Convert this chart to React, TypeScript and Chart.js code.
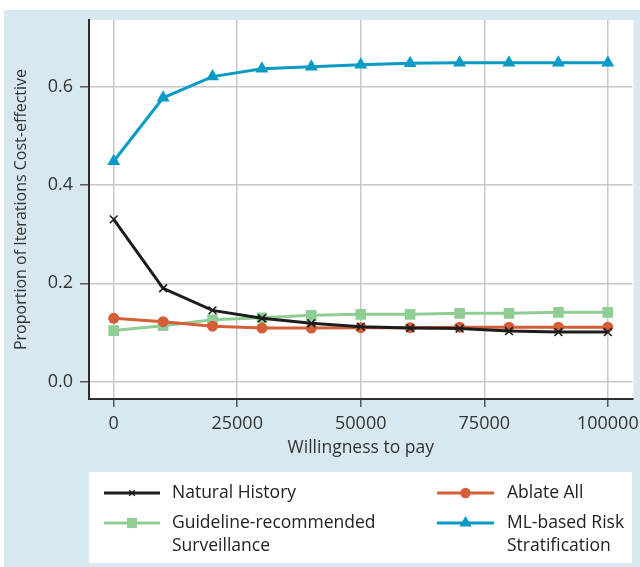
import React, { useEffect, useRef } from "react";
import { Chart, registerables } from "chart.js";

Chart.register(...registerables);

// ---- data ----
const wtp = [0, 10000, 20000, 30000, 40000, 50000, 60000, 70000, 80000, 90000, 100000];
const naturalHistory = [0.33, 0.19, 0.145, 0.129, 0.119, 0.112, 0.109, 0.108, 0.103, 0.101, 0.101];
const ablateAll = [0.129, 0.122, 0.113, 0.109, 0.109, 0.11, 0.11, 0.111, 0.111, 0.111, 0.111];
const guideline = [0.104, 0.114, 0.126, 0.13, 0.135, 0.137, 0.137, 0.139, 0.139, 0.141, 0.141];
const mlRisk = [0.448, 0.577, 0.62, 0.636, 0.64, 0.644, 0.647, 0.648, 0.648, 0.648, 0.648];
const xTicks = [0, 25000, 50000, 75000, 100000];
const yTicks = [0, 0.2, 0.4, 0.6];
const seriesNames = [
  "Natural History",
  "Ablate All",
  "Guideline-recommended\nSurveillance",
  "ML-based Risk\nStratification",
];
const xTitle = "Willingness to pay";
const yTitle = "Proportion of Iterations Cost-effective";

const FONT = "'Open Sans', 'Noto Sans', sans-serif";
const TEXT = "#333333";

type Style = { color: string; point: string; radius: number; lineColor: string };
const styles: Style[] = [
  { color: "#1c1c1c", lineColor: "#1c1c1c", point: "crossRot", radius: 5.5 },
  { color: "#d35e38", lineColor: "#d35e38", point: "circle", radius: 5.5 },
  { color: "#8fcd94", lineColor: "#8fcd94", point: "rect", radius: 7.5 },
  { color: "#0a9ac6", lineColor: "#0a9ac6", point: "triangle", radius: 7.5 },
];
const seriesValues = [naturalHistory, ablateAll, guideline, mlRisk];

function drawMarker(ctx: CanvasRenderingContext2D, s: Style, x: number, y: number, r: number) {
  ctx.save();
  ctx.fillStyle = s.color;
  ctx.strokeStyle = s.color;
  ctx.beginPath();
  if (s.point === "crossRot") {
    const d = r * Math.SQRT1_2;
    ctx.lineWidth = 1.5;
    ctx.moveTo(x - d, y - d);
    ctx.lineTo(x + d, y + d);
    ctx.moveTo(x - d, y + d);
    ctx.lineTo(x + d, y - d);
    ctx.stroke();
  } else if (s.point === "circle") {
    ctx.arc(x, y, r, 0, Math.PI * 2);
    ctx.fill();
  } else if (s.point === "rect") {
    const d = r * Math.SQRT1_2;
    ctx.rect(x - d, y - d, 2 * d, 2 * d);
    ctx.fill();
  } else if (s.point === "triangle") {
    for (let i = 0; i < 3; i++) {
      const a = (i * 2 * Math.PI) / 3;
      const px = x + Math.sin(a) * r;
      const py = y - Math.cos(a) * r;
      if (i === 0) ctx.moveTo(px, py);
      else ctx.lineTo(px, py);
    }
    ctx.closePath();
    ctx.fill();
  }
  ctx.restore();
}

const framePlugin = {
  id: "frame",
  beforeDraw(chart: any) {
    const { ctx, chartArea } = chart;
    ctx.save();
    ctx.fillStyle = "#ffffff";
    ctx.fillRect(0, 0, chart.width, chart.height);
    ctx.fillStyle = "#d7e8f1";
    ctx.fillRect(4, 10, chart.width - 4, chart.height - 10);
    ctx.fillStyle = "#ffffff";
    ctx.fillRect(chartArea.left, chartArea.top, chartArea.right - chartArea.left + 1, chartArea.bottom - chartArea.top);
    ctx.restore();
  },
  afterDraw(chart: any) {
    const { ctx } = chart;
    ctx.save();
    ctx.fillStyle = "#ffffff";
    ctx.fillRect(89, 472, 543, 91);
    const cols = [
      { x0: 104, x1: 160, tx: 172 },
      { x0: 437, x1: 494, tx: 507 },
    ];
    const rows = [493, 523];
    const layout = [
      { c: 0, r: 0 },
      { c: 1, r: 0 },
      { c: 0, r: 1 },
      { c: 1, r: 1 },
    ];
    ctx.font = `17.5px ${FONT}`;
    ctx.textBaseline = "middle";
    ctx.textAlign = "left";
    seriesNames.forEach((name, i) => {
      const s = styles[i];
      const col = cols[layout[i].c];
      const y = rows[layout[i].r];
      ctx.strokeStyle = s.lineColor;
      ctx.lineWidth = 3;
      ctx.beginPath();
      ctx.moveTo(col.x0, y);
      ctx.lineTo(col.x1, y);
      ctx.stroke();
      drawMarker(ctx, s, (col.x0 + col.x1) / 2, y, s.point === "crossRot" ? 4 : s.radius * 0.95);
      ctx.fillStyle = "#222222";
      name.split("\n").forEach((line, k) => {
        ctx.fillText(line, col.tx, y + k * 23);
      });
    });
    ctx.restore();
  },
};

export default function App() {
  const ref = useRef<HTMLCanvasElement | null>(null);

  useEffect(() => {
    document.body.style.margin = "0";
    const canvas = ref.current;
    if (!canvas) return;
    const datasets = seriesNames.map((name, i) => {
      const s = styles[i];
      return {
        label: name.replace("\n", " "),
        data: wtp.map((x, j) => ({ x, y: seriesValues[i][j] })),
        borderColor: s.lineColor,
        backgroundColor: s.color,
        borderWidth: 3,
        pointStyle: s.point,
        pointRadius: s.radius,
        pointBorderWidth: s.point === "crossRot" ? 1.6 : 0,
        pointBorderColor: s.color,
        pointBackgroundColor: s.color,
        tension: 0,
        fill: false,
      };
    });

    const chart = new Chart(canvas, {
      type: "line",
      data: { datasets } as any,
      options: {
        animation: false,
        responsive: false,
        events: [],
        layout: { padding: { left: 0, right: 5, top: 20, bottom: 107 } },
        plugins: {
          legend: { display: false },
          tooltip: { enabled: false },
        },
        scales: {
          x: {
            type: "linear",
            min: -5000,
            max: 105000,
            afterBuildTicks: (scale: any) => {
              scale.ticks = xTicks.map((v) => ({ value: v }));
            },
            afterFit: (scale: any) => {
              scale.height = 61;
              scale.paddingLeft = 0;
              scale.paddingRight = 0;
            },
            ticks: {
              autoSkip: false,
              maxRotation: 0,
              padding: 6,
              color: TEXT,
              font: { family: FONT, size: 18 },
              callback: (v: any) => String(v),
            },
            grid: {
              color: "#c8c8c8",
              lineWidth: 1.5,
              tickColor: "#555555",
              tickLength: 8,
              tickWidth: 1.5,
            },
            border: { display: true, color: "#2e2e2e", width: 2 },
            title: {
              display: true,
              text: xTitle,
              color: TEXT,
              font: { family: FONT, size: 17.5 },
              padding: { top: 0, bottom: 1.5 },
            },
          },
          y: {
            type: "linear",
            min: -0.035,
            max: 0.735,
            afterBuildTicks: (scale: any) => {
              scale.ticks = yTicks.map((v) => ({ value: v }));
            },
            afterFit: (scale: any) => {
              scale.width = 89;
              scale.paddingTop = 0;
              scale.paddingBottom = 0;
            },
            ticks: {
              padding: 7,
              color: TEXT,
              font: { family: FONT, size: 18 },
              callback: (v: any) => Number(v).toFixed(1),
            },
            grid: {
              color: "#c8c8c8",
              lineWidth: 1.5,
              tickColor: "#555555",
              tickLength: 9,
              tickWidth: 1.5,
            },
            border: { display: true, color: "#2e2e2e", width: 2 },
            title: {
              display: true,
              text: yTitle,
              color: TEXT,
              font: { family: FONT, size: 16 },
              padding: { top: 11.4, bottom: 0 },
            },
          },
        },
      } as any,
      plugins: [framePlugin],
    });
    return () => chart.destroy();
  }, []);

  return (
    <div style={{ width: 640, height: 567, overflow: "hidden" }}>
      <canvas ref={ref} width={640} height={567} style={{ display: "block", width: 640, height: 567 }} />
    </div>
  );
}
